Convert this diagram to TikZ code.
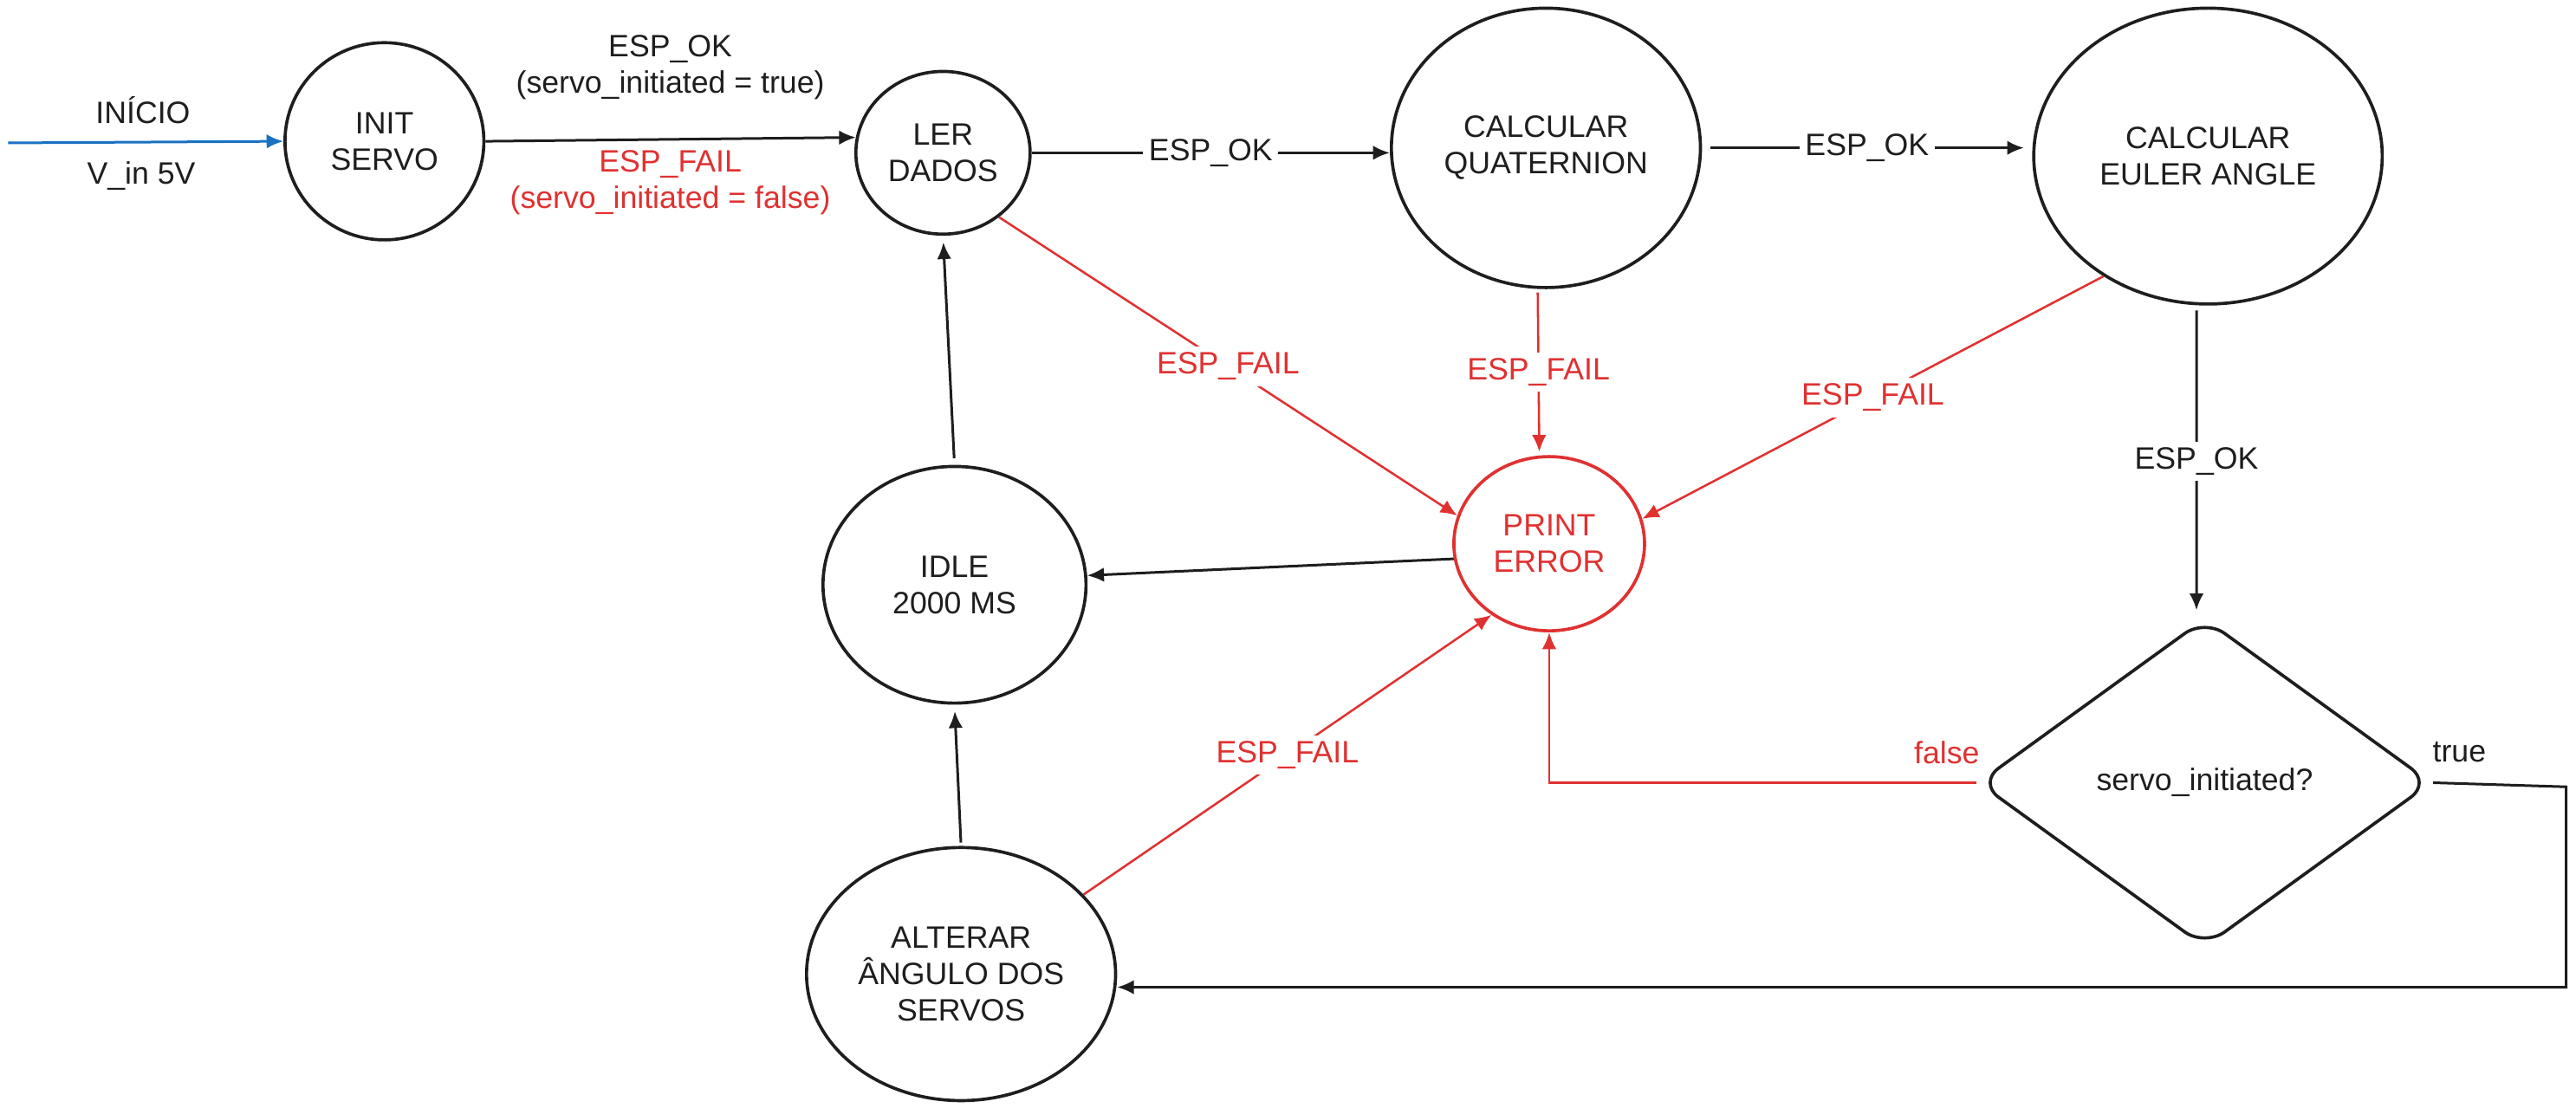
\documentclass[tikz,border=0pt]{standalone}
\usepackage{fontspec}
\setmainfont{Liberation Sans}
\usetikzlibrary{shapes.geometric,arrows.meta,calc}
\definecolor{ered}{HTML}{E03131}
\definecolor{eblue}{HTML}{1971C2}
\definecolor{eblack}{HTML}{1E1E1E}
\begin{document}
\begin{tikzpicture}[x=0.01cm,y=-0.01cm,
 every node/.style={font=\fontsize{5.35}{6.3}\selectfont, text=eblack},
 state/.style={ellipse, draw=eblack, line width=0.55pt, inner sep=0pt, align=center},
 conn/.style={draw=eblack, line width=0.45pt, -{Latex[length=2.9pt,width=2.5pt]}},
 fail/.style={draw=ered, line width=0.38pt, -{Latex[length=2.9pt,width=2.5pt]}},
 lbl/.style={fill=white, inner sep=1pt, text=eblack},
 rlbl/.style={fill=white, inner sep=1pt, text=ered},
]
\useasboundingbox (0,0) rectangle (1568,674.5);

% states
\node[state, minimum width=1.21cm, minimum height=1.2cm] (init) at (234,86) {INIT\\SERVO};
\node[state, minimum width=1.06cm, minimum height=0.99cm] (ler) at (574,93) {LER\\DADOS};
\node[state, minimum width=1.88cm, minimum height=1.70cm] (quat) at (941,90) {CALCULAR\\QUATERNION};
\node[state, minimum width=2.12cm, minimum height=1.80cm] (euler) at (1344,95) {CALCULAR\\EULER ANGLE};
\node[state, draw=ered, text=ered, minimum width=1.16cm, minimum height=1.06cm] (perr) at (943,331) {PRINT\\ERROR};
\node[state, minimum width=1.60cm, minimum height=1.44cm] (idle) at (581,356) {IDLE\\2000 MS};
\node[state, minimum width=1.88cm, minimum height=1.54cm] (alt) at (585,593) {ALTERAR\\ÂNGULO DOS\\SERVOS};
\node[diamond, draw=eblack, line width=0.55pt, rounded corners=0.15cm, minimum width=2.76cm, minimum height=2.0cm, inner sep=0pt] (dec) at (1342,476.5) {servo\_initiated?};

% start arrow
\coordinate (start) at (5,87);
\draw[draw=eblue, line width=0.45pt, -{Latex[length=2.9pt,width=2.5pt]}] (start) -- (init.west);
\node (lin) at (87,67) {INÍCIO};
\node (lv) at (86,107) {V\_in 5V};

% init -> ler
\draw[conn] (init.east) -- (ler.170);
\node[align=center] (lok1) at (408,41) {ESP\_OK\\(servo\_initiated = true)};
\node[align=center, text=ered] (lfail1) at (408,111) {ESP\_FAIL\\(servo\_initiated = false)};

% main chain
\draw[conn] (ler.east) -- (ler.east -| quat.west) node[midway, lbl] {ESP\_OK};
\draw[conn, shorten <=0.05cm, shorten >=0.05cm] (quat.east) -- (quat.east -| euler.west) node[midway, lbl] {ESP\_OK};
\draw[conn, shorten <=0.03cm, shorten >=0.04cm] ([xshift=-0.07cm]euler.south) -- ([xshift=-0.05cm]dec.north) node[midway, lbl] {ESP\_OK};

% failures
\draw[fail] (ler.-49) -- (perr.163) node[midway, rlbl] {ESP\_FAIL};
\draw[fail, shorten <=0.02cm, shorten >=0.02cm] ([xshift=-0.05cm]quat.south) -- ([xshift=-0.06cm]perr.north) node[midway, rlbl] {ESP\_FAIL};
\draw[fail] (euler.229) -- (perr.15) node[midway, rlbl] {ESP\_FAIL};
\draw[fail] (alt.33) -- (perr.231) node[midway, rlbl] {ESP\_FAIL};

% decision
\draw[fail] (dec.west) -| (perr.south);
\node[text=ered] (lfalse) at (1185,458) {false};
\coordinate (rt) at (1562,479);
\coordinate (rb) at (1562,601);
\draw[conn] (dec.east) -- (rt) -- (rb) -- (rb -| alt.east);
\node (ltrue) at (1497,458) {true};

% returns
\draw[conn] (perr.189) -- (idle.4);
\draw[conn, shorten <=0.04cm, shorten >=0.04cm] (idle.north) -- (ler.south);
\draw[conn, shorten <=0.02cm, shorten >=0.04cm] (alt.north) -- (idle.south);
\end{tikzpicture}
\end{document}
